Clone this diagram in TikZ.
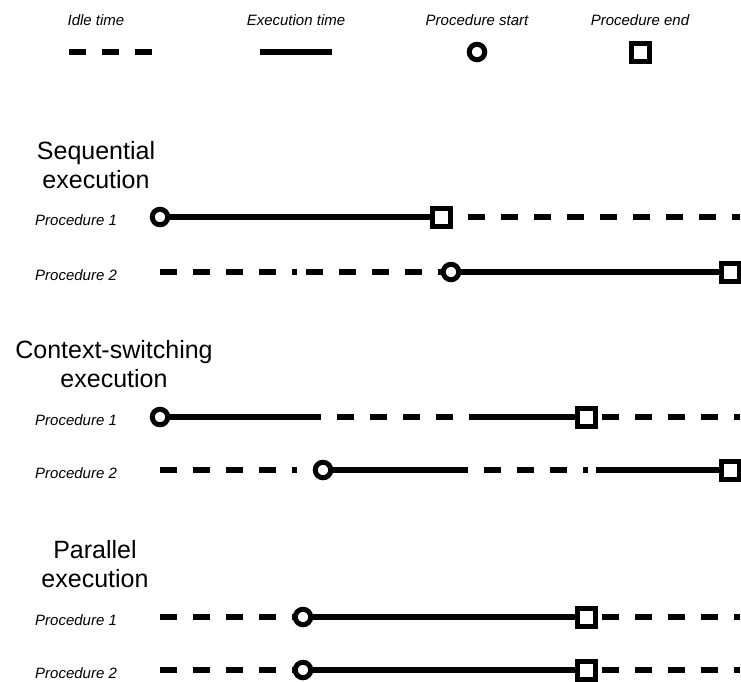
\documentclass[tikz,border=0pt]{standalone}
\usepackage{fontspec}
\setmainfont{Liberation Sans}
\usetikzlibrary{positioning}

\tikzset{
  busy/.style={line width=5.5pt},
  idle/.style={line width=5.5pt, dash pattern=on 17pt off 16pt, dash phase=#1},
  idle/.default=0pt,
  pstart/.style={circle, draw, line width=5pt, fill=white, minimum size=15.5pt, inner sep=0pt},
  pend/.style={rectangle, draw, line width=5pt, fill=white, minimum size=18pt, inner sep=0pt},
  lbl/.style={font=\fontsize{15}{18}\selectfont\itshape, inner sep=0pt},
  head/.style={font=\fontsize{25}{29}\selectfont, align=center, inner sep=0pt, anchor=north},
}

\begin{document}
\begin{tikzpicture}[x=1pt,y=-1pt]
  \useasboundingbox (0,0) rectangle (741,681);

	%legend
 \def\ry{52};
    \foreach \x/\txt/\name in {96/Idle time/kidle, 296/Execution time/kbusy, 477/Procedure start/kstart, 640/Procedure end/kend}{
         \node[lbl,anchor=base] (\name) at (\x, 25) {\txt};
    }
    \coordinate (ia) at (69,\ry);
    \coordinate (ib) at (152,\ry);
    \coordinate (ba) at (260,\ry);
    \coordinate (bb) at (332,\ry);
    \draw[idle] (ia) -- (ib);
    \draw[busy] (ba) -- (bb);
    \node[pstart] (kcirc) at (477,\ry) {};
    \node[pend] (ksq) at (640,\ry) {};

	%sequential
    \node[head] (seqhead) at (96,141) {Sequential\\execution};

 \def\ry{217};
    \node[lbl,anchor=base west] (seql1) at (35,\ry+8) {Procedure 1};
    \foreach \x/\name in {160/s1a, 441/s1b, 740/s1c}{
         \coordinate (\name) at (\x,\ry);
    }
    \draw[busy] (s1a) -- (s1b);
    \draw[idle=6pt] (s1b) -- (s1c);
    \node[pstart] (s1start) at (s1a) {};
    \node[pend] (s1end) at (s1b) {};

 \def\ry{272};
    \node[lbl,anchor=base west] (seql2) at (35,\ry+8) {Procedure 2};
    \foreach \x/\name in {160/s2a, 297/s2b, 306/s2c, 451/s2d, 730/s2e}{
         \coordinate (\name) at (\x,\ry);
    }
    \draw[idle] (s2a) -- (s2b);
    \draw[idle] (s2c) -- (s2d);
    \draw[busy] (s2d) -- (s2e);
    \node[pstart] (s2start) at (s2d) {};
    \node[pend] (s2end) at (s2e) {};

	%context switching
    \node[head] (ctxhead) at (114,340) {Context-switching\\execution};

 \def\ry{417};
    \node[lbl,anchor=base west] (ctxl1) at (35,\ry+8) {Procedure 1};
    \foreach \x/\name in {160/c1a, 321/c1b, 469/c1c, 586/c1d, 740/c1e}{
         \coordinate (\name) at (\x,\ry);
    }
    \draw[busy] (c1a) -- (c1b);
    \draw[idle=17pt] (c1b) -- (c1c);
    \draw[busy] (c1c) -- (c1d);
    \draw[idle=17pt] (c1d) -- (c1e);
    \node[pstart] (c1start) at (c1a) {};
    \node[pend] (c1end) at (c1d) {};

 \def\ry{470};
    \node[lbl,anchor=base west] (ctxl2) at (35,\ry+8) {Procedure 2};
    \foreach \x/\name in {160/c2a, 297/c2b, 323/c2c, 451/c2d, 588/c2e, 596/c2f, 730/c2g}{
         \coordinate (\name) at (\x,\ry);
    }
    \draw[idle] (c2a) -- (c2b);
    \draw[busy] (c2c) -- (c2d);
    \draw[idle] (c2d) -- (c2e);
    \draw[busy] (c2f) -- (c2g);
    \node[pstart] (c2start) at (c2c) {};
    \node[pend] (c2end) at (c2g) {};

	%parallel
    \node[head] (parhead) at (95,540) {Parallel\\execution};

    \foreach \ry/\n in {617/1, 670/2}{
         \node[lbl,anchor=base west] (parl\n) at (35,\ry+8) {Procedure \n};
         \coordinate (p\n a) at (160,\ry);
         \coordinate (p\n b) at (303,\ry);
         \coordinate (p\n c) at (586,\ry);
         \coordinate (p\n d) at (740,\ry);
         \draw[idle] (p\n a) -- (p\n b);
         \draw[busy] (p\n b) -- (p\n c);
         \draw[idle=17pt] (p\n c) -- (p\n d);
         \node[pstart] (p\n start) at (p\n b) {};
         \node[pend] (p\n end) at (p\n c) {};
    }

\end{tikzpicture}
\end{document}
